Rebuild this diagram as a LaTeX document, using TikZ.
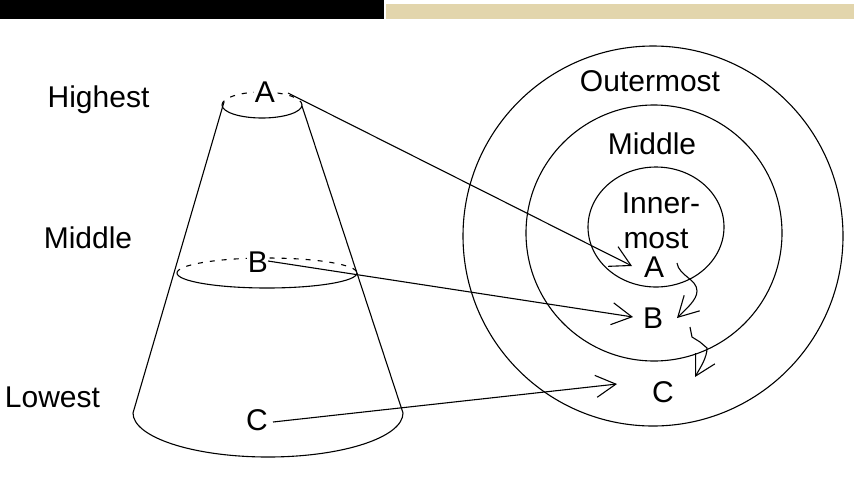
\documentclass[tikz,border=0pt]{standalone}
\usepackage{fontspec}
\setmainfont{Liberation Sans}
\usetikzlibrary{arrows.meta}
\definecolor{beigestrip}{RGB}{226,213,172}
\begin{document}
\begin{tikzpicture}[x=1pt,y=-1pt,line width=1.1pt,
  lbl/.style={font=\fontsize{30}{34}\selectfont,inner sep=0pt,anchor=base},
  arr/.style={-{Straight Barb[length=20pt,width=22pt]}},
  dsh/.style={dash pattern=on 5pt off 7pt}]
\useasboundingbox (0,0) rectangle (854,491);
% top strips
\fill[black] (0,0) rectangle (384,19);
\fill[beigestrip] (386,4) rectangle (854,19);
% left labels
\node[lbl] (hi) at (98.5,107) {Highest};
\node[lbl] (mi) at (88,248) {Middle};
\node[lbl] (lo) at (52.5,407) {Lowest};
% cone
\draw[dsh] (222,105) arc[start angle=180,end angle=0,x radius=40pt,y radius=13pt];
\draw (222,105) arc[start angle=180,end angle=360,x radius=40pt,y radius=13pt];
\draw[dsh] (177,273) arc[start angle=180,end angle=0,x radius=90pt,y radius=15pt];
\draw (177,273) arc[start angle=180,end angle=360,x radius=90pt,y radius=15pt];
\draw (133,413) arc[start angle=180,end angle=360,x radius=135pt,y radius=44pt];
\draw (224,102) -- (133,413);
\draw (302,106) -- (403,413);
\node[lbl,fill=white,inner sep=1pt] (ca) at (265,102) {A};
\node[lbl,fill=white,inner sep=1pt] (cb) at (258,272) {B};
\node[lbl] (cc) at (257,430) {C};
% circles
\draw (653,236) circle[radius=190pt];
\draw (654,233) circle[radius=128pt];
\draw (656,227) ellipse[x radius=68pt,y radius=60pt];
\node[lbl] (om) at (650,91) {Outermost};
\node[lbl] (md) at (652,154) {Middle};
\node[lbl] (in1) at (661,213) {Inner-};
\node[lbl] (in2) at (656,248) {most};
\node[lbl] (ia) at (654,277) {A};
\node[lbl] (ib) at (653,328) {B};
\node[lbl] (ic) at (663,402) {C};
% connectors
\coordinate (sa) at (288,93);
\coordinate (ta) at (632,266);
\coordinate (sb) at (268,261);
\coordinate (tb) at (633,317);
\coordinate (sc) at (273,422);
\coordinate (tc) at (617,384);
\draw[arr] (sa) -- (ta);
\draw[arr] (sb) -- (tb);
\draw[arr] (sc) -- (tc);
% curly arrows
\coordinate (s1) at (677,263);
\coordinate (t1) at (677,318);
\coordinate (s2) at (690,327);
\coordinate (t2) at (695,377);
\draw[arr] (s1) .. controls (679,276) and (697,279) .. (697,291) .. controls (697,300) and (686,309) .. (t1);
\draw[arr] (s2) -- (692,337) -- (700,342) -- (707,348) .. controls (707,358) and (700,368) .. (t2);
\end{tikzpicture}
\end{document}
